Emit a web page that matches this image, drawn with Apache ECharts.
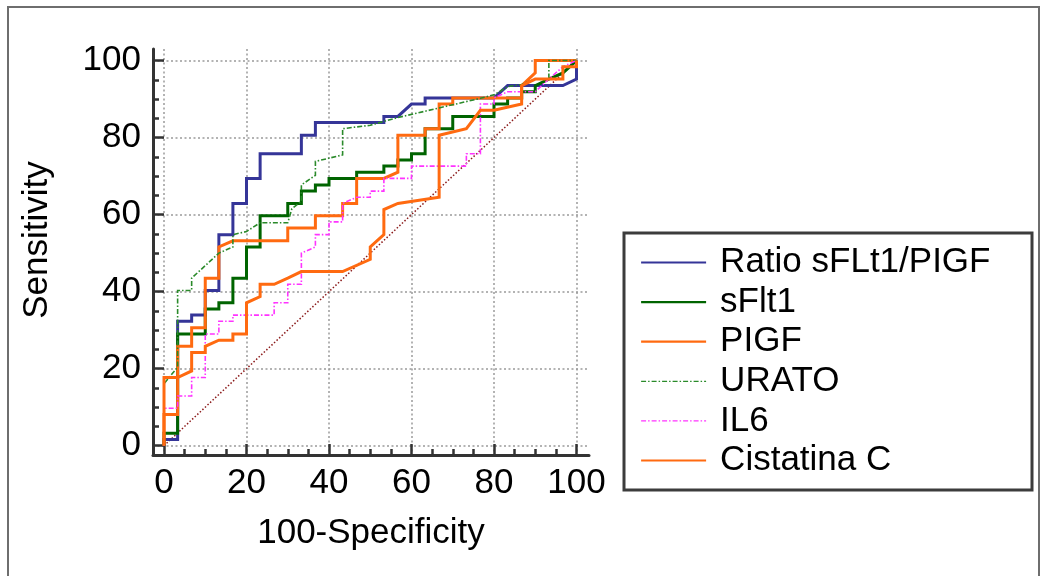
<!DOCTYPE html>
<html>
<head>
<meta charset="utf-8">
<script src="https://cdn.jsdelivr.net/npm/echarts@6/dist/echarts.min.js"></script>
<style>
  html, body { margin: 0; padding: 0; background: #ffffff; }
  #chart { width: 1045px; height: 576px; }
</style>
</head>
<body>
<div id="chart"></div>
<script>
// ROC curves: x = 100-Specificity (%), y = Sensitivity (%)
const seriesNames = ['Ratio sFLt1/PIGF', 'sFlt1', 'PIGF', 'URATO', 'IL6', 'Cistatina C'];

const ratioPts = [[0,0],[0,1.6],[3.3,1.6],[3.3,32.3],[6.7,32.3],[6.7,33.9],[10,33.9],[10,40.3],[13.3,40.3],[13.3,54.8],[16.7,54.8],[16.7,62.9],[20,62.9],[20,69.4],[23.3,69.4],[23.3,75.8],[33.3,75.8],[33.3,80.6],[36.7,80.6],[36.7,83.9],[53.3,83.9],[53.3,85.5],[56.7,85.5],[60,88.7],[63.3,88.7],[63.3,90.3],[80,90.3],[83.3,93.5],[96.7,93.5],[100,95.2],[100,100]];

const sflt1Pts = [[0,0],[0,3.2],[3.3,3.2],[3.3,29.0],[10,29.0],[10,35.5],[13.3,35.5],[13.3,37.1],[16.7,37.1],[16.7,43.5],[20,43.5],[20,51.6],[23.3,51.6],[23.3,59.7],[30,59.7],[30,62.9],[33.3,62.9],[33.3,66.1],[36.7,66.1],[36.7,67.7],[40,67.7],[40,69.4],[46.7,69.4],[46.7,71.0],[53.3,71.0],[53.3,72.6],[56.7,72.6],[56.7,74.2],[60,74.2],[60,75.8],[63.3,75.8],[63.3,82.3],[70,82.3],[70,85.5],[80,85.5],[80,88.7],[83.3,88.7],[83.3,90.3],[86.7,90.3],[86.7,91.9],[90,91.9],[90,93.5],[93.3,95.2],[96.7,96.8],[100,100]];

const pigfPts = [[0,0],[0,8.1],[3.3,8.1],[3.3,25.8],[6.7,25.8],[6.7,30.6],[10,30.6],[10,43.5],[13.3,43.5],[13.3,51.6],[16.7,53.2],[30,53.2],[30,56.5],[36.7,56.5],[36.7,59.7],[43.3,59.7],[43.3,62.9],[46.7,62.9],[46.7,69.4],[53.3,69.4],[56.7,71.0],[56.7,80.6],[63.3,80.6],[63.3,82.3],[66.7,82.3],[66.7,88.7],[70,88.7],[70,90.3],[86.7,90.3],[86.7,93.5],[90,96.8],[90,100],[100,100]];

const uratoPts = [[0,0],[0,16.1],[3.3,20.4],[3.3,40.3],[6.7,40.3],[6.7,43.5],[13.3,50.0],[16.7,51.6],[16.7,54.8],[20,55.6],[23.3,57.9],[30,57.9],[31,61.5],[33.3,63.5],[33.3,67.7],[36.7,70.2],[36.7,73.8],[43.3,75.5],[43.3,82.3],[50,83.2],[53.3,84.2],[56.7,85.2],[76.7,90.2],[80,91.1],[83.3,93.2],[86.7,93.8],[90,95.2],[93.3,95.2],[93.3,100],[100,100]];

const il6Pts = [[0,0],[0,9.7],[3.3,9.7],[3.3,12.9],[6.7,12.9],[6.7,17.7],[10,17.7],[10,29.0],[13.3,29.0],[13.3,32.3],[16.7,32.3],[16.7,33.9],[26.7,33.9],[26.7,37.1],[30,37.1],[30,41.9],[33.3,41.9],[33.3,50.0],[36.7,51.6],[36.7,54.8],[40,54.8],[40,58.1],[43.3,58.1],[43.3,62.9],[46.7,64.5],[50,64.5],[50,66.1],[53.3,66.1],[53.3,69.4],[60,69.4],[60,72.6],[73.3,72.6],[73.3,75.8],[76.7,75.8],[76.7,88.7],[80,88.7],[80,90.3],[83.3,91.9],[90,91.9],[93.3,95.2],[96.7,98.4],[100,100]];

const cistatinaPts = [[0,0],[0,17.7],[3.3,17.7],[6.7,19.4],[6.7,24.2],[10,24.2],[10,25.8],[13.3,27.4],[16.7,27.4],[16.7,29.0],[20,29.0],[20,37.1],[23.3,38.7],[23.3,41.9],[26.7,41.9],[30,43.5],[33.3,45.2],[43.3,45.2],[50,48.4],[50,51.6],[53.3,54.8],[53.3,61.3],[56.7,62.9],[66.7,64.5],[66.7,80.6],[73.3,82.3],[76.7,87.1],[80,87.1],[86.7,88.7],[86.7,93.5],[90,95.2],[96.7,95.2],[96.7,98.4],[100,98.4],[100,100]];

// diagonal reference line (no discrimination)
const diagonalPts = [[0,0],[100,100]];

// axis ticks
const majorTicks = [0, 20, 40, 60, 80, 100];
const minorTicks = [5, 10, 15, 25, 30, 35, 45, 50, 55, 65, 70, 75, 85, 90, 95];

const X_MIN = -2.67, X_MAX = 103.03;
const Y_MIN = -2.42, Y_MAX = 103.0;

const FONT = "'Liberation Sans', Arial, Helvetica, sans-serif";
const AXIS_COLOR = '#333333';
const TEXT_COLOR = '#000000';

function mainAxis(min, max, position, name, nameGap, labelMargin, namePadding) {
  return {
    type: 'value', position: position, min: min, max: max,
    name: name, nameLocation: 'middle', nameGap: nameGap,
    nameTextStyle: { fontFamily: FONT, fontSize: 35, color: TEXT_COLOR, padding: namePadding },
    axisLine: { show: true, onZero: false, lineStyle: { color: AXIS_COLOR, width: 3 } },
    axisTick: { show: true, inside: true, length: 11, customValues: majorTicks,
                lineStyle: { color: AXIS_COLOR, width: 2.5 } },
    axisLabel: { show: true, customValues: majorTicks, margin: labelMargin,
                 fontFamily: FONT, fontSize: 35, color: TEXT_COLOR },
    splitLine: { show: true, lineStyle: { color: '#9a9a9a', width: 1.5, type: [2, 2.5] } },
    minorTick: { show: false }, minorSplitLine: { show: false }
  };
}
function minorAxis(min, max, position) {
  return {
    type: 'value', position: position, min: min, max: max,
    axisLine: { show: false, onZero: false },
    axisTick: { show: true, inside: true, length: 6, customValues: minorTicks,
                lineStyle: { color: AXIS_COLOR, width: 2.5 } },
    axisLabel: { show: false },
    splitLine: { show: false }
  };
}

function rocSeries(name, data, color, width, type, z) {
  return {
    name: name, type: 'line', data: data,
    xAxisIndex: 0, yAxisIndex: 0,
    showSymbol: false, symbol: 'none', smooth: false,
    lineStyle: { color: color, width: width, type: type, join: 'miter', cap: 'butt' },
    itemStyle: { color: color },
    z: z, silent: true
  };
}

// legend entry: plain line sample, no marker
function legendEntry(name, width) {
  return { name: name, lineStyle: { width: width }, itemStyle: { opacity: 0, borderWidth: 0 } };
}

const BLUE = '#353598', GREEN = '#006400', ORANGE = '#ff6a10',
      URATO_GREEN = '#2a8a2a', MAGENTA = '#ff33ff', DIAG = '#8b1a1a';
const DASH_DOT = [5, 2, 1.5, 2];

const chart = echarts.init(document.getElementById('chart'), null, { renderer: 'canvas' });
chart.setOption({
  animation: false,
  backgroundColor: '#ffffff',
  grid: { left: 153, top: 49, width: 436, height: 406, containLabel: false, outerBoundsMode: 'none' },
  xAxis: [
    mainAxis(X_MIN, X_MAX, 'bottom', '100-Specificity', 61, 11, 0),
    minorAxis(X_MIN, X_MAX, 'bottom')
  ],
  yAxis: [
    mainAxis(Y_MIN, Y_MAX, 'left', 'Sensitivity', 98, 12, [0, 0, 0, 24]),
    minorAxis(Y_MIN, Y_MAX, 'left')
  ],
  legend: {
    orient: 'vertical', left: 640, top: 245, padding: 0, itemGap: 4.6,
    itemWidth: 65, itemHeight: 14, selectedMode: false,
    itemStyle: { opacity: 0, borderWidth: 0 },
    textStyle: { fontFamily: FONT, fontSize: 35, color: TEXT_COLOR, padding: [0, 0, 0, 9] },
    data: [
      legendEntry(seriesNames[0], 2.2),
      legendEntry(seriesNames[1], 2.2),
      legendEntry(seriesNames[2], 2.2),
      legendEntry(seriesNames[3], 1.3),
      legendEntry(seriesNames[4], 1.3),
      legendEntry(seriesNames[5], 2.2)
    ]
  },
  graphic: [
    { type: 'rect', silent: true, z: 0,
      shape: { x: 8, y: 7, width: 1031, height: 620 },
      style: { fill: null, stroke: '#6e6e6e', lineWidth: 2 } },
    { type: 'rect', silent: true, z: 0,
      shape: { x: 624, y: 233, width: 408, height: 257 },
      style: { fill: null, stroke: '#3c3c3c', lineWidth: 3 } }
  ],
  series: [
    { name: 'diagonal', type: 'line', data: diagonalPts, xAxisIndex: 0, yAxisIndex: 0,
      showSymbol: false, symbol: 'none', silent: true, z: 1,
      lineStyle: { color: DIAG, width: 1.5, type: [1.5, 2] } },
    rocSeries(seriesNames[0], ratioPts, BLUE, 3, 'solid', 2),
    rocSeries(seriesNames[1], sflt1Pts, GREEN, 3, 'solid', 3),
    rocSeries(seriesNames[2], pigfPts, ORANGE, 3, 'solid', 4),
    rocSeries(seriesNames[3], uratoPts, URATO_GREEN, 1.6, DASH_DOT, 5),
    rocSeries(seriesNames[4], il6Pts, MAGENTA, 1.6, DASH_DOT, 5),
    rocSeries(seriesNames[5], cistatinaPts, ORANGE, 3, 'solid', 6)
  ]
});
</script>
</body>
</html>
